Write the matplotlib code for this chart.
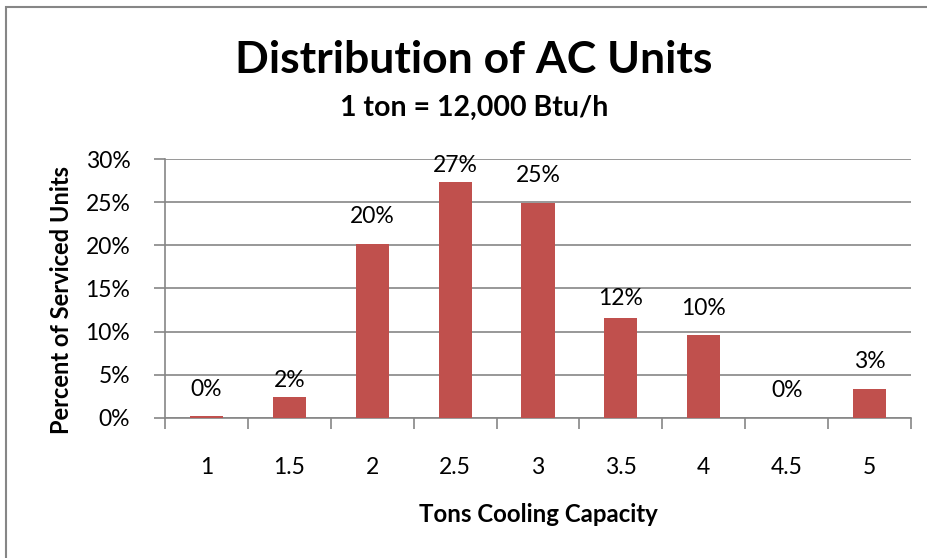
import matplotlib
matplotlib.use("Agg")
import matplotlib.pyplot as plt
from matplotlib.patches import Rectangle
from matplotlib.ticker import FixedLocator, PercentFormatter

plt.rcParams['font.family'] = ['Lato', 'DejaVu Sans']

# Cooling capacity categories (tons) and share of serviced units (%)
tons = ["1", "1.5", "2", "2.5", "3", "3.5", "4", "4.5", "5"]
share_pct = [0.2, 2.37, 20.2, 27.4, 24.97, 11.55, 9.57, 0.0, 3.37]
y_ticks = [0, 5, 10, 15, 20, 25, 30]

# vertical nudges (px) for individual value labels
label_gap_px = [26, 17, 27, 16, 27, 20, 27, 27, 27]

BAR = "#C0504D"
GRID = "#868686"

fig = plt.figure(figsize=(9.28, 5.58), dpi=100)
W, H = 928, 558

# outer chart frame
fig.patches.append(Rectangle((6 / W, -0.1), 1.2, (H - 7) / H + 0.1,
                             transform=fig.transFigure, fill=False,
                             edgecolor=GRID, linewidth=1.5))

ax = fig.add_axes([165 / W, (H - 417.7) / H, (911 - 165) / W, (417.7 - 159.3) / H])
x = list(range(len(tons)))
ax.bar(x, share_pct, width=0.4, color=BAR, zorder=3)

ax.set_xlim(-0.5, len(tons) - 0.5)
ax.set_ylim(0, 30)
ax.yaxis.set_major_locator(FixedLocator(y_ticks))
ax.yaxis.set_major_formatter(PercentFormatter(decimals=0))
ax.grid(axis="y", color=GRID, linewidth=1.2, zorder=0)

ax.set_xticks(x)
ax.set_xticklabels(tons)
ax.set_xticks([i - 0.5 for i in range(len(tons) + 1)], minor=True)
ax.tick_params(axis="x", which="major", length=0, pad=28, labelsize=16.5)
ax.tick_params(axis="x", which="minor", length=8, width=1.2, color=GRID)
ax.tick_params(axis="y", length=8, width=1.2, color=GRID, labelsize=16.5, pad=17)

for s in ("top", "right"):
    ax.spines[s].set_visible(False)
for s in ("left", "bottom"):
    ax.spines[s].set_color(GRID)
    ax.spines[s].set_linewidth(1.2)

for xi, v, gap in zip(x, share_pct, label_gap_px):
    ax.annotate(f"{v:.0f}%", (xi, v), xytext=(0, gap), textcoords="offset pixels",
                ha="center", va="center", fontsize=16.5, zorder=4)

fig.text(474 / W, 1 - 60 / H, "Distribution of AC Units", ha="center", va="center",
         fontsize=32, fontweight="bold")
fig.text(474 / W, 1 - 108 / H, "1 ton = 12,000 Btu/h", ha="center", va="center",
         fontsize=20.5, fontweight="bold")
fig.text(62 / W, 1 - 300 / H, "Percent of Serviced Units", ha="center", va="center",
         rotation=90, fontsize=17, fontweight="bold")
fig.text(538 / W, 1 - 514 / H, "Tons Cooling Capacity", ha="center", va="center",
         fontsize=17.3, fontweight="bold")

fig.savefig("out.png", dpi=100)
